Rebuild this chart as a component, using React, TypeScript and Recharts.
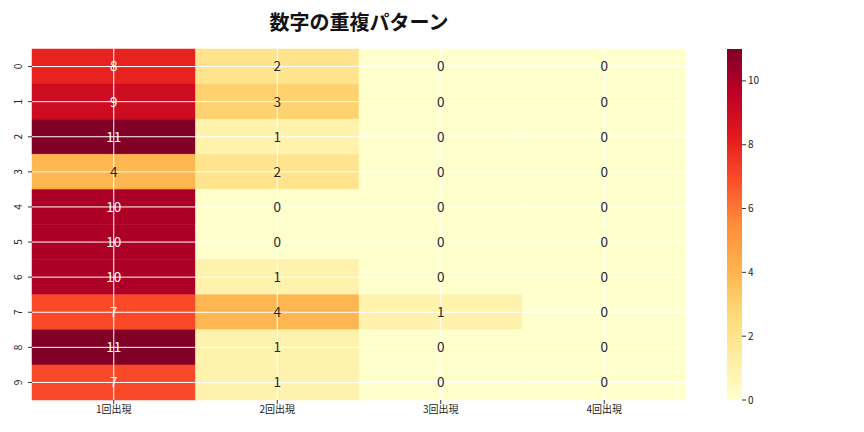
import React from 'react';
import { ComposedChart, BarChart, Bar, XAxis, YAxis, ReferenceArea, ReferenceLine, Scatter } from 'recharts';

const rowLabels = ['0', '1', '2', '3', '4', '5', '6', '7', '8', '9'];
const colLabels = ['1回出現', '2回出現', '3回出現', '4回出現'];
const count1 = [8, 9, 11, 4, 10, 10, 10, 7, 11, 7];
const count2 = [2, 3, 1, 2, 0, 0, 1, 4, 1, 1];
const count3 = [0, 0, 0, 0, 0, 0, 0, 1, 0, 0];
const count4 = [0, 0, 0, 0, 0, 0, 0, 0, 0, 0];
const vmin = 0;
const vmax = 11;
const cbarTicks = [0, 2, 4, 6, 8, 10];
const colorStops = ['#ffffcc', '#ffeda0', '#fed976', '#feb24c', '#fd8d3c', '#fc4e2a', '#e31a1c', '#bd0026', '#800026'];
const title = '数字の重複パターン';

const FONT = "'Noto Sans CJK JP', 'DejaVu Sans', sans-serif";

const hexToRgb = (h: string) => [parseInt(h.slice(1, 3), 16), parseInt(h.slice(3, 5), 16), parseInt(h.slice(5, 7), 16)];

const colorRgb = (v: number) => {
  const t = Math.max(0, Math.min(1, (v - vmin) / (vmax - vmin)));
  const pos = t * (colorStops.length - 1);
  const i = Math.min(Math.floor(pos), colorStops.length - 2);
  const f = pos - i;
  const a = hexToRgb(colorStops[i]);
  const b = hexToRgb(colorStops[i + 1]);
  return a.map((x, k) => Math.round(x + (b[k] - x) * f));
};
const colorOf = (v: number) => {
  const [r, g, b] = colorRgb(v);
  return `rgb(${r},${g},${b})`;
};
const textColorOf = (v: number) => {
  const lin = colorRgb(v).map((c) => {
    const s = c / 255;
    return s <= 0.03928 ? s / 12.92 : Math.pow((s + 0.055) / 1.055, 2.4);
  });
  const lum = 0.2126 * lin[0] + 0.7152 * lin[1] + 0.0722 * lin[2];
  return lum > 0.408 ? '#262626' : '#ffffff';
};

const columns = [count1, count2, count3, count4];
const cells = columns.flatMap((col, c) =>
  col.map((value, r) => ({ x: c + 0.5, y: r + 0.5, c, r, value }))
);
const cbarData = [{ name: 'cbar', top: vmax }];

const xTicks = colLabels.map((_, i) => i + 0.5);
const yTicks = rowLabels.map((_, i) => i + 0.5);

const YTick = (props: any) => {
  const { x, y, payload } = props;
  return (
    <text x={x - 4} y={y} transform={`rotate(-90, ${x - 4}, ${y})`} textAnchor="middle" fontSize={10} fontFamily={FONT} fill="#222">
      {rowLabels[Math.floor(payload.value)]}
    </text>
  );
};

const CellLabel = (props: any) => {
  const { cx, cy, payload } = props;
  if (cx == null || cy == null) return null;
  return (
    <text x={cx} y={cy} dy="0.36em" textAnchor="middle" fontSize={13.5} fontFamily={FONT} fill={textColorOf(payload.value)}>
      {payload.value}
    </text>
  );
};

export default function App() {
  return (
    <div style={{ position: 'absolute', left: 0, top: 0, width: 864, height: 432, background: '#fff', fontFamily: FONT }}>
      <div style={{ position: 'absolute', left: 0, top: 11, width: 718, textAlign: 'center', fontSize: 20, lineHeight: '22px', fontWeight: 700, color: '#111' }}>
        {title}
      </div>
      <div style={{ position: 'absolute', left: 0, top: 0 }}>
        <ComposedChart width={864} height={432} margin={{ top: 49, right: 178, left: 0, bottom: 0 }}>
          <XAxis
            type="number"
            dataKey="x"
            domain={[0, 4]}
            ticks={xTicks}
            interval={0}
            tickFormatter={(v: number) => colLabels[Math.floor(v)]}
            axisLine={false}
            tickLine={{ stroke: '#333' }}
            tickSize={4}
            height={32}
            tick={{ fontSize: 10, fill: '#222', fontFamily: FONT }}
          />
          <YAxis
            type="number"
            dataKey="y"
            domain={[0, 10]}
            reversed
            ticks={yTicks}
            interval={0}
            axisLine={false}
            tickLine={{ stroke: '#333' }}
            tickSize={4}
            width={32}
            tick={<YTick />}
          />
          {cells.map((d) => (
            <ReferenceArea
              key={`a${d.c}-${d.r}`}
              x1={d.c}
              x2={d.c + 1}
              y1={d.r}
              y2={d.r + 1}
              fill={colorOf(d.value)}
              fillOpacity={1}
              stroke={colorOf(d.value)}
              strokeWidth={0.5}
            />
          ))}
          {xTicks.map((t) => (
            <ReferenceLine key={`vx${t}`} x={t} stroke="#ffffff" strokeWidth={1} />
          ))}
          {yTicks.map((t) => (
            <ReferenceLine key={`hy${t}`} y={t} stroke="#ffffff" strokeWidth={1} />
          ))}
          <Scatter data={cells} dataKey="value" isAnimationActive={false} shape={<CellLabel />} />
        </ComposedChart>
      </div>
      <div style={{ position: 'absolute', left: 700, top: 0 }}>
        <BarChart width={100} height={432} data={cbarData} barCategoryGap={0} margin={{ top: 49, right: 0, left: 27, bottom: 32 }}>
          <defs>
            <linearGradient id="cbarGrad" x1="0" y1="1" x2="0" y2="0">
              {colorStops.map((c, i) => (
                <stop key={c} offset={`${(i / (colorStops.length - 1)) * 100}%`} stopColor={c} />
              ))}
            </linearGradient>
          </defs>
          <XAxis dataKey="name" hide />
          <YAxis
            type="number"
            orientation="right"
            domain={[vmin, vmax]}
            ticks={cbarTicks}
            interval={0}
            axisLine={false}
            tickLine={{ stroke: '#333' }}
            tickSize={4}
            width={58}
            tick={{ fontSize: 10, fill: '#222', fontFamily: FONT }}
          />
          <Bar dataKey="top" fill="url(#cbarGrad)" isAnimationActive={false} />
        </BarChart>
      </div>
    </div>
  );
}
